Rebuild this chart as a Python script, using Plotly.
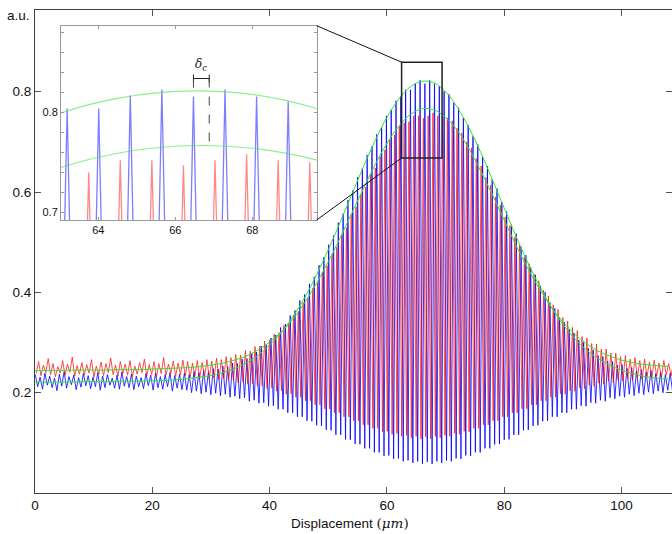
import numpy as np
import plotly.graph_objects as go

# ---------------- data ----------------
# fringe sampling grid (micrometres): blue fringe maxima start at FRINGE_START, period FRINGE_PERIOD
FRINGE_START = 0.05
FRINGE_PERIOD = 0.82
BLUE_TROUGH_SHIFT = 0.41
RED_TROUGH_SHIFT = 0.15
RED_PEAK_SHIFT = 0.56

blue_peaks = [
    0.236, 0.231, 0.239, 0.233, 0.229, 0.237, 0.242, 0.232, 0.235, 0.230,
    0.238, 0.234, 0.231, 0.240, 0.233, 0.236, 0.229, 0.235, 0.241, 0.232,
    0.237, 0.233, 0.230, 0.238, 0.235, 0.239, 0.232, 0.236, 0.240, 0.234,
    0.237,
    0.239, 0.236, 0.242, 0.240, 0.245, 0.242, 0.248, 0.247, 0.253, 0.252,
    0.259, 0.258, 0.267, 0.268, 0.279, 0.281, 0.293, 0.296, 0.309, 0.315,
    0.330, 0.337, 0.354, 0.364, 0.384, 0.396, 0.417, 0.431, 0.454, 0.470,
    0.495, 0.513, 0.539, 0.557, 0.584, 0.603, 0.630, 0.648, 0.674, 0.691,
    0.715, 0.730, 0.752, 0.764, 0.782, 0.791, 0.804, 0.804, 0.817, 0.823,
    0.816, 0.823, 0.816, 0.811, 0.801, 0.795, 0.778, 0.768, 0.748, 0.734,
    0.711, 0.695, 0.670, 0.652, 0.626, 0.607, 0.580, 0.561, 0.535, 0.517,
    0.491, 0.474, 0.450, 0.435, 0.413, 0.400, 0.380, 0.368, 0.350, 0.341,
    0.326, 0.319, 0.305, 0.300, 0.288, 0.285, 0.274, 0.272, 0.263, 0.262,
    0.255, 0.256, 0.249, 0.250, 0.244, 0.246, 0.241, 0.244, 0.238, 0.241,
    0.236, 0.239,
]
blue_troughs = [
    0.212, 0.207, 0.215, 0.210, 0.204, 0.213, 0.209, 0.216, 0.206, 0.211,
    0.214, 0.208, 0.212, 0.205, 0.210, 0.215, 0.209, 0.207, 0.213, 0.210,
    0.206, 0.212, 0.208, 0.214, 0.205, 0.210, 0.207, 0.212, 0.203, 0.209,
    0.206,
    0.205, 0.200, 0.203, 0.198, 0.201, 0.196, 0.199, 0.194, 0.197, 0.191,
    0.193, 0.188, 0.190, 0.183, 0.185, 0.179, 0.180, 0.173, 0.174, 0.167,
    0.167, 0.160, 0.160, 0.152, 0.152, 0.144, 0.143, 0.135, 0.134, 0.126,
    0.125, 0.116, 0.116, 0.107, 0.106, 0.098, 0.097, 0.089, 0.089, 0.081,
    0.081, 0.074, 0.075, 0.068, 0.069, 0.063, 0.065, 0.060, 0.063, 0.058,
    0.062, 0.058, 0.063, 0.060, 0.065, 0.063, 0.069, 0.068, 0.075, 0.074,
    0.081, 0.081, 0.089, 0.089, 0.097, 0.098, 0.106, 0.107, 0.116, 0.116,
    0.125, 0.126, 0.134, 0.135, 0.143, 0.144, 0.152, 0.152, 0.160, 0.160,
    0.167, 0.167, 0.174, 0.173, 0.180, 0.179, 0.185, 0.183, 0.190, 0.188,
    0.193, 0.191, 0.197, 0.194, 0.199, 0.196, 0.201, 0.198, 0.203, 0.200,
    0.205, 0.202,
]
red_peaks = [
    0.262, 0.255, 0.268, 0.258, 0.252, 0.264, 0.257, 0.271, 0.254, 0.260,
    0.256, 0.266, 0.253, 0.261, 0.258, 0.269, 0.255, 0.262, 0.257, 0.264,
    0.253, 0.260, 0.267, 0.256, 0.262, 0.258, 0.270, 0.257, 0.263, 0.259,
    0.265,
    0.262, 0.259, 0.264, 0.260, 0.266, 0.263, 0.269, 0.266, 0.272, 0.270,
    0.276, 0.275, 0.284, 0.283, 0.292, 0.293, 0.303, 0.305, 0.317, 0.320,
    0.334, 0.339, 0.355, 0.362, 0.380, 0.389, 0.409, 0.419, 0.441, 0.453,
    0.476, 0.490, 0.515, 0.529, 0.555, 0.570, 0.595, 0.610, 0.634, 0.648,
    0.671, 0.684, 0.705, 0.714, 0.731, 0.738, 0.740, 0.752, 0.752, 0.747,
    0.752, 0.758, 0.752, 0.750, 0.748, 0.742, 0.727, 0.718, 0.700, 0.688,
    0.667, 0.652, 0.629, 0.614, 0.590, 0.574, 0.550, 0.533, 0.510, 0.494,
    0.471, 0.457, 0.436, 0.423, 0.404, 0.393, 0.375, 0.366, 0.350, 0.343,
    0.330, 0.324, 0.312, 0.309, 0.298, 0.297, 0.287, 0.287, 0.279, 0.279,
    0.272, 0.274, 0.267, 0.270, 0.264, 0.267, 0.261, 0.265, 0.259, 0.264,
    0.258, 0.262,
]
red_troughs = [
    0.238, 0.234, 0.240, 0.236, 0.232, 0.239, 0.235, 0.241, 0.233, 0.237,
    0.235, 0.239, 0.231, 0.237, 0.234, 0.240, 0.236, 0.233, 0.238, 0.235,
    0.232, 0.237, 0.240, 0.234, 0.236, 0.231, 0.238, 0.235, 0.239, 0.233,
    0.236,
    0.234, 0.230, 0.233, 0.229, 0.231, 0.228, 0.230, 0.226, 0.228, 0.224,
    0.225, 0.220, 0.222, 0.217, 0.218, 0.213, 0.214, 0.208, 0.209, 0.203,
    0.204, 0.197, 0.198, 0.191, 0.191, 0.184, 0.184, 0.176, 0.176, 0.168,
    0.168, 0.160, 0.160, 0.152, 0.152, 0.144, 0.144, 0.136, 0.136, 0.129,
    0.129, 0.122, 0.123, 0.117, 0.119, 0.113, 0.115, 0.110, 0.113, 0.108,
    0.112, 0.108, 0.113, 0.110, 0.115, 0.113, 0.119, 0.117, 0.123, 0.122,
    0.129, 0.129, 0.136, 0.136, 0.144, 0.144, 0.152, 0.152, 0.160, 0.160,
    0.168, 0.168, 0.176, 0.176, 0.184, 0.184, 0.191, 0.191, 0.198, 0.197,
    0.204, 0.203, 0.210, 0.208, 0.215, 0.213, 0.219, 0.217, 0.223, 0.220,
    0.226, 0.223, 0.228, 0.225, 0.230, 0.227, 0.232, 0.228, 0.233, 0.230,
    0.235, 0.233,
]

# fitted envelopes (green), sampled every 2 um
env_x = [0, 2, 4, 6, 8, 10, 12, 14, 16, 18, 20, 22, 24, 26, 28, 30, 32, 34, 36, 38,
         40, 42, 44, 46, 48, 50, 52, 54, 56, 58, 60, 62, 64, 66, 68, 70, 72, 74, 76, 78,
         80, 82, 84, 86, 88, 90, 92, 94, 96, 98, 100, 102, 104, 106, 108]
blue_env = [0.221, 0.221, 0.221, 0.221, 0.222, 0.222, 0.222, 0.222, 0.223, 0.223,
            0.224, 0.224, 0.226, 0.228, 0.231, 0.234, 0.240, 0.248, 0.259, 0.274,
            0.295, 0.320, 0.352, 0.390, 0.435, 0.485, 0.539, 0.595, 0.651, 0.703,
            0.749, 0.785, 0.810, 0.821, 0.818, 0.800, 0.769, 0.728, 0.679, 0.624,
            0.568, 0.512, 0.460, 0.413, 0.371, 0.336, 0.308, 0.285, 0.268, 0.255,
            0.245, 0.238, 0.232, 0.229, 0.227]
red_env = [0.244, 0.244, 0.244, 0.245, 0.245, 0.245, 0.245, 0.246, 0.246, 0.246,
           0.247, 0.248, 0.249, 0.250, 0.252, 0.255, 0.259, 0.265, 0.273, 0.285,
           0.301, 0.321, 0.347, 0.380, 0.418, 0.461, 0.508, 0.558, 0.607, 0.655,
           0.697, 0.731, 0.755, 0.766, 0.764, 0.749, 0.723, 0.686, 0.642, 0.594,
           0.544, 0.494, 0.448, 0.407, 0.371, 0.341, 0.317, 0.298, 0.283, 0.273,
           0.265, 0.260, 0.256, 0.254, 0.252]

x_ticks = [0, 20, 40, 60, 80, 100]
y_ticks = [0.2, 0.4, 0.6, 0.8]
inset_x_ticks = [64, 66, 68]
inset_y_ticks = [0.7, 0.8]
INSET_Y_MINOR_START, INSET_Y_MINOR_STEP = 0.70, 0.02

# delta_c marker (inset data coords)
DELTA_X0, DELTA_X1, DELTA_Y = 66.47, 66.88, 0.834
DELTA_LEFT_BOTTOM, DELTA_RIGHT_BOTTOM = 0.822, 0.768
# zoom window drawn on the main axes
ZOOM_X0, ZOOM_X1, ZOOM_Y0, ZOOM_Y1 = 62.5, 69.4, 0.668, 0.859

# ---------------- build the traces ----------------
n = min(len(blue_peaks), len(blue_troughs), len(red_peaks), len(red_troughs))
xk = FRINGE_START + FRINGE_PERIOD * np.arange(n)

bx = np.empty(2 * n); by = np.empty(2 * n)
bx[0::2] = xk; by[0::2] = blue_peaks[:n]
bx[1::2] = xk + BLUE_TROUGH_SHIFT; by[1::2] = blue_troughs[:n]

rx = np.empty(2 * n); ry = np.empty(2 * n)
rx[0::2] = xk + RED_TROUGH_SHIFT; ry[0::2] = red_troughs[:n]
rx[1::2] = xk + RED_PEAK_SHIFT; ry[1::2] = red_peaks[:n]

X_RANGE = [0, 108.6]
Y_RANGE = [0, 0.963]
INSET_XDOM = [0.0408, 0.4422]
INSET_YDOM = [0.5652, 0.9675]
INSET_XRANGE = [63.03, 69.67]
INSET_YRANGE = [0.692, 0.887]

BLUE = "#0000ff"
RED = "#ff0000"
GREEN = "#2ee62e"
FONT = "Liberation Sans, Arial, sans-serif"

fig = go.Figure()
# main axes
fig.add_trace(go.Scatter(x=bx, y=by, mode="lines", line=dict(color=BLUE, width=0.8),
                         hoverinfo="skip", showlegend=False))
fig.add_trace(go.Scatter(x=rx, y=ry, mode="lines", line=dict(color=RED, width=0.8),
                         opacity=0.88, hoverinfo="skip", showlegend=False))
fig.add_trace(go.Scatter(x=env_x, y=blue_env, mode="lines", line=dict(color=GREEN, width=1, shape="spline"),
                         hoverinfo="skip", showlegend=False))
fig.add_trace(go.Scatter(x=env_x, y=red_env, mode="lines", line=dict(color=GREEN, width=1, shape="spline"),
                         hoverinfo="skip", showlegend=False))
# inset
fig.add_trace(go.Scatter(x=bx, y=by, mode="lines", line=dict(color="rgba(40,40,255,0.6)", width=1.3),
                         xaxis="x2", yaxis="y2", hoverinfo="skip", showlegend=False))
fig.add_trace(go.Scatter(x=rx, y=ry, mode="lines", line=dict(color="rgba(255,40,40,0.55)", width=1.3),
                         xaxis="x2", yaxis="y2", hoverinfo="skip", showlegend=False))
fig.add_trace(go.Scatter(x=env_x, y=blue_env, mode="lines",
                         line=dict(color="rgba(60,230,60,0.6)", width=1.2, shape="spline"),
                         xaxis="x2", yaxis="y2", hoverinfo="skip", showlegend=False))
fig.add_trace(go.Scatter(x=env_x, y=red_env, mode="lines",
                         line=dict(color="rgba(60,230,60,0.6)", width=1.2, shape="spline"),
                         xaxis="x2", yaxis="y2", hoverinfo="skip", showlegend=False))

axis_line = "#404040"
fig.update_layout(
    width=672, height=534,
    margin=dict(l=35, r=0, t=10, b=41),
    paper_bgcolor="white", plot_bgcolor="white",
    font=dict(family=FONT, size=13.5, color="#111"),
    showlegend=False,
    xaxis=dict(range=X_RANGE, tickvals=x_ticks, ticks="inside", ticklen=6, tickcolor="#555",
               showline=True, linecolor=axis_line, linewidth=1, mirror="ticks",
               showgrid=False, zeroline=False, tickfont=dict(size=13.5)),
    yaxis=dict(range=Y_RANGE, tickvals=y_ticks, ticks="inside", ticklen=6, tickcolor="#555",
               showline=True, linecolor=axis_line, linewidth=1, mirror="ticks",
               showgrid=False, zeroline=False, tickfont=dict(size=13.5)),
    xaxis2=dict(domain=INSET_XDOM, anchor="y2", range=INSET_XRANGE, tickvals=inset_x_ticks,
                ticks="inside", ticklen=3, tickcolor="#999", showline=True, linecolor="#999",
                linewidth=1, mirror="allticks", showgrid=False, zeroline=False,
                tickfont=dict(size=11)),
    yaxis2=dict(domain=INSET_YDOM, anchor="x2", range=INSET_YRANGE, tickvals=inset_y_ticks,
                tickformat=".1f", ticks="inside", ticklen=3, tickcolor="#999",
                minor=dict(tick0=INSET_Y_MINOR_START, dtick=INSET_Y_MINOR_STEP, ticks="inside",
                           ticklen=3, tickcolor="#999", showgrid=False),
                showline=True, linecolor="#999", linewidth=1, mirror="allticks",
                showgrid=False, zeroline=False, tickfont=dict(size=11)),
)

# inset corners expressed in main-axis data coordinates
ix1 = X_RANGE[0] + INSET_XDOM[1] * (X_RANGE[1] - X_RANGE[0])
iy0 = Y_RANGE[0] + INSET_YDOM[0] * (Y_RANGE[1] - Y_RANGE[0])
iy1 = Y_RANGE[0] + INSET_YDOM[1] * (Y_RANGE[1] - Y_RANGE[0])

shapes = [
    dict(type="rect", xref="x", yref="y", x0=ZOOM_X0, x1=ZOOM_X1, y0=ZOOM_Y0, y1=ZOOM_Y1,
         line=dict(color="#222", width=1.5)),
    dict(type="line", xref="x", yref="y", x0=ix1, y0=iy1, x1=ZOOM_X0, y1=ZOOM_Y1,
         line=dict(color="#111", width=1)),
    dict(type="line", xref="x", yref="y", x0=ix1, y0=iy0, x1=ZOOM_X0, y1=ZOOM_Y0,
         line=dict(color="#111", width=1)),
    # delta_c bar with end caps and dashed guides
    dict(type="line", xref="x2", yref="y2", x0=DELTA_X0, x1=DELTA_X1, y0=DELTA_Y, y1=DELTA_Y,
         line=dict(color="#222", width=1)),
    dict(type="line", xref="x2", yref="y2", x0=DELTA_X0, x1=DELTA_X0, y0=DELTA_Y - 0.004,
         y1=DELTA_Y + 0.004, line=dict(color="#222", width=1)),
    dict(type="line", xref="x2", yref="y2", x0=DELTA_X1, x1=DELTA_X1, y0=DELTA_Y - 0.004,
         y1=DELTA_Y + 0.004, line=dict(color="#222", width=1)),
    dict(type="line", xref="x2", yref="y2", x0=DELTA_X0, x1=DELTA_X0, y0=DELTA_Y,
         y1=DELTA_LEFT_BOTTOM, line=dict(color="#444", width=1, dash="dash")),
    dict(type="line", xref="x2", yref="y2", x0=DELTA_X1, x1=DELTA_X1, y0=DELTA_Y,
         y1=DELTA_RIGHT_BOTTOM, line=dict(color="#444", width=1, dash="dash")),
]
fig.update_layout(shapes=shapes)

fig.add_annotation(text="a.u.", xref="paper", yref="paper", x=-0.005, y=0.988,
                   xanchor="right", yanchor="middle", showarrow=False,
                   font=dict(family=FONT, size=13.5, color="#111"))
fig.add_annotation(text='Displacement <span style="font-family:DejaVu Serif">(<i>μm</i>)</span>',
                   xref="paper", yref="paper", x=0.495, y=-0.062, xanchor="center",
                   yanchor="middle", showarrow=False, font=dict(family=FONT, size=13.5, color="#111"))
fig.add_annotation(text="<i>δ</i><sub><i>c</i></sub>", xref="x2", yref="y2",
                   x=(DELTA_X0 + DELTA_X1) / 2, y=DELTA_Y + 0.004, xanchor="center",
                   yanchor="bottom", showarrow=False,
                   font=dict(family="DejaVu Serif, serif", size=12, color="#222"))

fig.write_html("out.html", config={"displayModeBar": False},
               post_script="document.body.style.margin='0px';document.body.style.overflow='hidden';")
